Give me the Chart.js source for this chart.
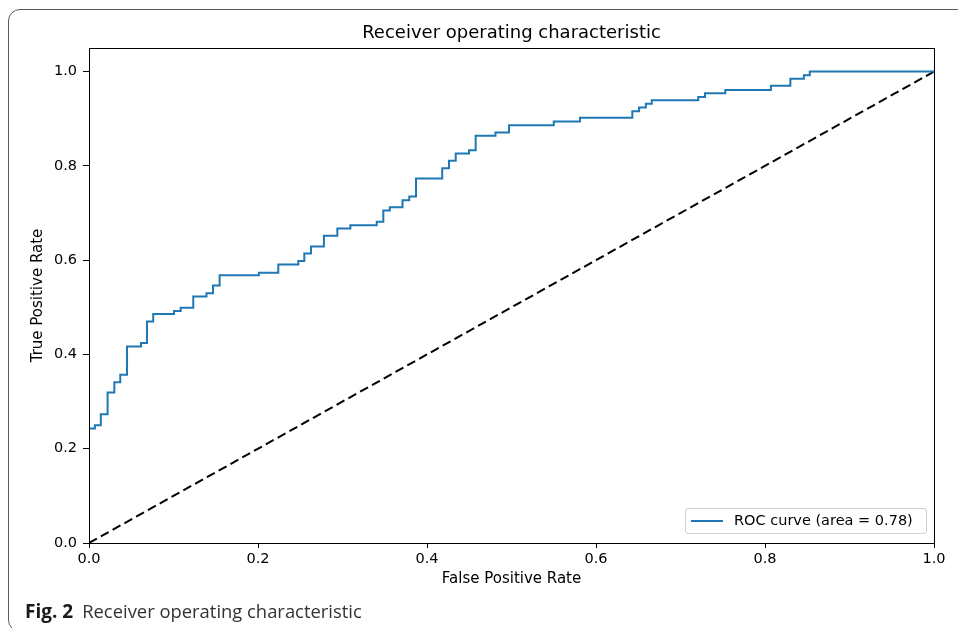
<!DOCTYPE html>
<html>
<head>
<meta charset="utf-8">
<script src="https://cdn.jsdelivr.net/npm/chart.js@4.4.1/dist/chart.umd.min.js"></script>
<style>
  html, body { margin: 0; padding: 0; background: #fff; }
  #lienzo-contenedor { position: relative; width: 958px; height: 628px; overflow: hidden; }
  #marco {
    position: absolute; left: 8px; top: 9px; width: 970px; height: 623px;
    border: 1px solid #5a5a5a; border-radius: 12px; box-sizing: border-box;
  }
  #grafica-roc { position: absolute; left: 0; top: 0; }
  #leyenda {
    position: absolute; left: 685px; top: 508px; width: 242px; height: 26px;
    border: 1px solid #d0d0d0; border-radius: 3px; background: rgba(255,255,255,0.8);
    box-sizing: border-box;
    font-family: "DejaVu Sans", sans-serif; font-size: 14.5px; color: #000;
  }
  #leyenda .linea { position: absolute; left: 5px; top: 11px; width: 32px; height: 2px; background: #1f77b4; }
  #leyenda .texto { position: absolute; left: 48px; top: 3px; white-space: nowrap; }
  #pie {
    position: absolute; left: 25px; top: 598px; white-space: nowrap;
    font-family: "Open Sans", "Noto Sans", sans-serif; font-size: 18.4px; color: #333;
  }
  #pie b { color: #1a1a1a; font-size: 19px; margin-right: 9px; }
</style>
</head>
<body>
<div id="lienzo-contenedor">
  <div id="marco"></div>
  <canvas id="grafica-roc" width="958" height="628"></canvas>
  <div id="leyenda"><span class="linea"></span><span class="texto"></span></div>
  <div id="pie"><b>Fig. 2</b>Receiver operating characteristic</div>
</div>
<script>
/* ===== DATOS ===== */

const TITULO       = "Receiver operating characteristic";
const ETIQUETA_X   = "False Positive Rate";
const ETIQUETA_Y   = "True Positive Rate";
const ETIQUETA_ROC = "ROC curve (area = 0.78)";

const TICKS_X = [0.0, 0.2, 0.4, 0.6, 0.8, 1.0];
const TICKS_Y = [0.0, 0.2, 0.4, 0.6, 0.8, 1.0];

// False positive rate (x) y true positive rate (y) de cada escalón
const FPR = [0, 0, 0.007, 0.014, 0.022, 0.030, 0.037, 0.045, 0.0615, 0.0686,
  0.076, 0.1006, 0.1085, 0.1234, 0.139, 0.1467, 0.1546, 0.201, 0.224, 0.2477,
  0.2548, 0.2627, 0.278, 0.2939, 0.3093, 0.3405, 0.3483, 0.356, 0.371, 0.379,
  0.387, 0.418, 0.426, 0.434, 0.4497, 0.4576, 0.481, 0.497, 0.550, 0.581,
  0.643, 0.651, 0.659, 0.666, 0.721, 0.729, 0.753, 0.807, 0.830, 0.846,
  0.853, 1.0];
const TPR = [0, 0.243, 0.250, 0.273, 0.319, 0.341, 0.357, 0.417, 0.424, 0.470,
  0.486, 0.492, 0.499, 0.523, 0.530, 0.546, 0.568, 0.5735, 0.591, 0.598,
  0.614, 0.629, 0.652, 0.667, 0.674, 0.6815, 0.7055, 0.712, 0.727, 0.735,
  0.773, 0.795, 0.811, 0.826, 0.833, 0.864, 0.871, 0.886, 0.894, 0.902,
  0.916, 0.924, 0.9315, 0.939, 0.946, 0.954, 0.961, 0.970, 0.985, 0.992,
  1.0, 1.0];

const DIAGONAL_X = [0, 1];
const DIAGONAL_Y = [0, 1];

/* ===== ESTILO ===== */

const FUENTE = "'DejaVu Sans', sans-serif";
const AZUL   = "#1f77b4";

function aPuntos(xs, ys) {
  return xs.map(function(x, i) { return { x: x, y: ys[i] }; });
}

// marco completo del área de dibujo (spines arriba y derecha)
const pluginMarco = {
  id: "marco",
  afterDraw: function(chart) {
    const a = chart.chartArea;
    const ctx = chart.ctx;
    ctx.save();
    ctx.strokeStyle = "#000";
    ctx.lineWidth = 1;
    ctx.strokeRect(Math.round(a.left) + 0.5, Math.round(a.top) + 0.5,
      Math.round(a.right - a.left), Math.round(a.bottom - a.top));
    ctx.restore();
  },
};

/* ===== GRÁFICA ===== */

function inicializarGrafica() {
  const lienzo = document.getElementById("grafica-roc");

  new Chart(lienzo, {
    type: "scatter",
    data: {
      datasets: [
        {
          label: ETIQUETA_ROC,
          data: aPuntos(FPR, TPR),
          showLine: true,
          stepped: "before",   // horizontal primero, luego el salto vertical
          borderColor: AZUL,
          borderWidth: 2,
          pointRadius: 0,
        },
        {
          label: "diagonal",
          data: aPuntos(DIAGONAL_X, DIAGONAL_Y),
          showLine: true,
          borderColor: "#000",
          borderWidth: 2,
          borderDash: [9, 4.5],
          pointRadius: 0,
        },
      ],
    },
    options: {
      responsive: false,
      animation: false,
      devicePixelRatio: 1,
      layout: { padding: { left: 0, right: 24, top: 0, bottom: 33 } },
      plugins: {
        legend: { display: false },
        tooltip: { enabled: false },
        title: {
          display: true,
          text: TITULO,
          fullSize: false,
          color: "#000",
          font: { family: FUENTE, size: 18, weight: "normal", lineHeight: 1.2 },
          padding: { top: 23, bottom: 3.4 },
        },
      },
      scales: {
        x: {
          type: "linear",
          min: 0,
          max: 1,
          afterFit: function(escala) { escala.height = 52; },
          afterBuildTicks: function(escala) {
            escala.ticks = TICKS_X.map(function(v) { return { value: v }; });
          },
          border: { display: true, color: "#000", width: 1 },
          grid: { drawOnChartArea: false, drawTicks: true, tickLength: 5, color: "#000" },
          ticks: {
            color: "#000",
            padding: 3,
            maxRotation: 0,
            font: { family: FUENTE, size: 14.5 },
            callback: function(v) { return Number(v).toFixed(1); },
          },
          title: {
            display: true,
            text: ETIQUETA_X,
            color: "#000",
            font: { family: FUENTE, size: 15 },
            padding: { top: 0, bottom: 7 },
          },
        },
        y: {
          type: "linear",
          min: 0,
          max: 1.05,
          afterFit: function(escala) { escala.width = 89; },
          afterBuildTicks: function(escala) {
            escala.ticks = TICKS_Y.map(function(v) { return { value: v }; });
          },
          border: { display: true, color: "#000", width: 1 },
          grid: { drawOnChartArea: false, drawTicks: true, tickLength: 6, color: "#000" },
          ticks: {
            color: "#000",
            padding: 6,
            font: { family: FUENTE, size: 14.5 },
            callback: function(v) { return Number(v).toFixed(1); },
          },
          title: {
            display: true,
            text: ETIQUETA_Y,
            color: "#000",
            font: { family: FUENTE, size: 15 },
            padding: { top: 29, bottom: 0 },
          },
        },
      },
    },
    plugins: [pluginMarco],
  });

  document.querySelector("#leyenda .texto").textContent = ETIQUETA_ROC;
}

document.addEventListener("DOMContentLoaded", inicializarGrafica);
</script>
</body>
</html>
